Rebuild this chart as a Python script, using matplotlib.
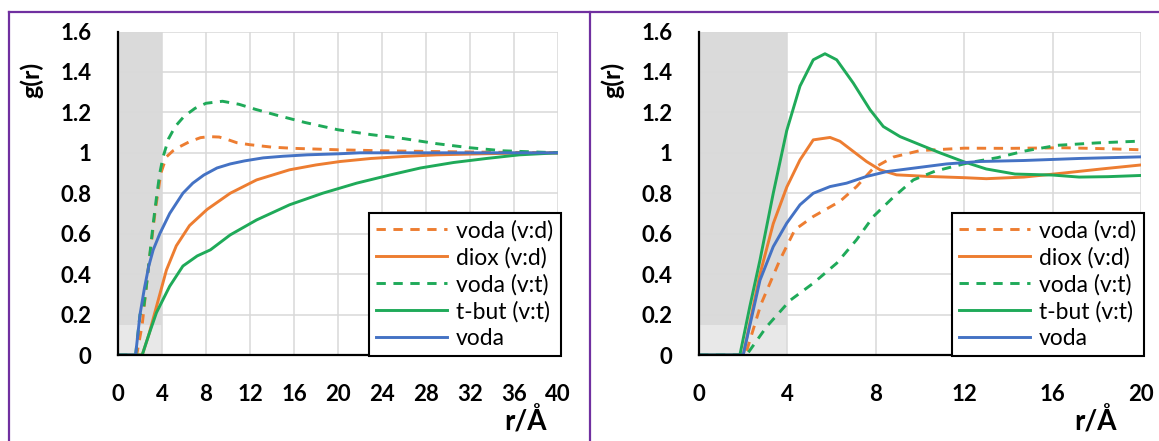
"""Radial distribution functions g(r) for the two mixtures, side by side."""
import matplotlib

matplotlib.use("Agg")
import matplotlib.pyplot as plt
from matplotlib.lines import Line2D

plt.rcParams["font.family"] = ["Lato", "DejaVu Sans"]

ORANGE = "#ED7D31"
GREEN = "#1FAA59"
BLUE = "#4472C4"
PURPLE = "#7030A0"
GRID = "#D9D9D9"
BAND = "#DADADA"

LABELS = ["voda (v:d)", "diox (v:d)", "voda (v:t)", "t-but (v:t)", "voda"]

# --- left panel, r up to 40 A ---
r_l_voda_vd = [0, 1.7, 2.2, 2.8, 3.4, 3.9, 4.4, 5.0, 5.6, 6.5, 7.5, 8.3, 9.2, 10.0, 10.8,
               12.0, 14.0, 16.0, 20.0, 24.0, 28.0, 32.0, 36.0, 40.0]
g_l_voda_vd = [0, 0, 0.15, 0.45, 0.72, 0.90, 0.98, 1.01, 1.03, 1.055, 1.075, 1.08, 1.078, 1.065, 1.05,
               1.04, 1.028, 1.022, 1.015, 1.01, 1.007, 1.004, 1.002, 1.0]

r_l_diox = [0, 2.2, 2.8, 3.5, 4.4, 5.3, 6.5, 8.1, 10.2, 12.6, 15.6, 18.0, 20.2, 23.0, 26.0,
            29.0, 33.0, 36.0, 40.0]
g_l_diox = [0, 0, 0.10, 0.24, 0.42, 0.54, 0.64, 0.72, 0.80, 0.866, 0.916, 0.94, 0.957, 0.972, 0.982,
            0.99, 0.995, 0.998, 1.0]

r_l_voda_vt = [0, 1.6, 2.0, 2.3, 2.6, 2.9, 3.2, 3.5, 3.8, 4.1, 4.6, 5.2, 6.0, 7.0, 8.0, 9.5, 11.0,
               12.5, 14.5, 17.0, 20.0, 23.0, 26.0, 29.0, 32.0, 35.0, 38.0, 40.0]
g_l_voda_vt = [0, 0, 0.20, 0.22, 0.35, 0.50, 0.65, 0.78, 0.90, 0.98, 1.07, 1.13, 1.18, 1.22, 1.245,
               1.255, 1.24, 1.215, 1.185, 1.15, 1.114, 1.09, 1.07, 1.045, 1.025, 1.01, 1.004, 1.0]

r_l_tbut = [0, 2.2, 2.8, 3.5, 4.7, 5.9, 7.2, 8.4, 10.2, 12.6, 15.6, 18.6, 21.7, 24.7, 27.5,
            30.5, 33.5, 36.5, 40.0]
g_l_tbut = [0, 0, 0.10, 0.21, 0.34, 0.44, 0.49, 0.52, 0.594, 0.668, 0.743, 0.80, 0.85, 0.89, 0.925,
            0.952, 0.972, 0.99, 1.0]

r_l_voda = [0, 1.6, 2.0, 2.4, 2.8, 3.2, 3.8, 4.7, 5.9, 6.8, 7.8, 9.0, 10.2, 11.5, 13.2, 15.0,
            17.2, 20.0, 22.0, 25.0, 30.0, 35.0, 40.0]
g_l_voda = [0, 0, 0.20, 0.33, 0.44, 0.52, 0.60, 0.70, 0.80, 0.85, 0.89, 0.925, 0.945, 0.96, 0.975,
            0.983, 0.99, 0.995, 1.0, 1.0, 1.0, 1.0, 1.0]

# --- right panel, r up to 20 A ---
r_r_voda_vd = [0, 2.1, 2.8, 3.66, 4.34, 5.17, 6.38, 7.13, 7.89, 8.79, 10.0, 12.0, 14.0, 16.5,
               18.5, 20.0]
g_r_voda_vd = [0, 0, 0.25, 0.47, 0.62, 0.685, 0.76, 0.833, 0.924, 0.979, 1.011, 1.023, 1.022, 1.025,
               1.02, 1.015]

r_r_diox = [0, 2.0, 2.76, 3.36, 3.97, 4.57, 5.17, 5.93, 6.38, 6.98, 7.58, 8.19, 8.94, 10.4, 12.0,
            13.0, 14.7, 16.5, 18.2, 20.0]
g_r_diox = [0, 0, 0.40, 0.65, 0.83, 0.965, 1.064, 1.076, 1.057, 1.007, 0.957, 0.916, 0.891, 0.883,
            0.877, 0.872, 0.88, 0.90, 0.92, 0.94]

r_r_voda_vt = [0, 2.15, 3.06, 4.12, 5.17, 6.23, 7.13, 7.89, 8.79, 9.7, 10.7, 12.2, 13.5, 14.7,
               16.2, 18.0, 20.0]
g_r_voda_vt = [0, 0, 0.14, 0.27, 0.355, 0.454, 0.57, 0.685, 0.78, 0.866, 0.91, 0.951, 0.976, 1.008,
               1.037, 1.049, 1.058]

r_r_tbut = [0, 1.85, 2.3, 2.76, 3.36, 3.97, 4.57, 5.17, 5.7, 6.23, 6.98, 7.74, 8.34, 9.1, 10.0,
            10.9, 12.0, 13.0, 14.3, 16.0, 17.2, 18.5, 20.0]
g_r_tbut = [0, 0, 0.24, 0.47, 0.80, 1.11, 1.33, 1.46, 1.49, 1.46, 1.345, 1.213, 1.13, 1.08, 1.04,
            1.0, 0.955, 0.92, 0.895, 0.89, 0.88, 0.882, 0.888]

r_r_voda = [0, 2.0, 2.76, 3.36, 3.97, 4.57, 5.17, 5.93, 6.68, 7.58, 8.49, 9.7, 11.2, 12.7, 14.7,
            17.2, 20.0]
g_r_voda = [0, 0, 0.37, 0.536, 0.652, 0.743, 0.80, 0.833, 0.85, 0.883, 0.907, 0.924, 0.945, 0.957,
            0.962, 0.972, 0.98]

x_ticks_left = [0, 4, 8, 12, 16, 20, 24, 28, 32, 36, 40]
x_ticks_right = [0, 4, 8, 12, 16, 20]
y_ticks = [0, 0.2, 0.4, 0.6, 0.8, 1.0, 1.2, 1.4, 1.6]
y_tick_labels = ["0", "0.2", "0.4", "0.6", "0.8", "1", "1.2", "1.4", "1.6"]
core_r = 4.0  # excluded core region, shaded grey

W, H = 1159, 441


def _panel(ax, series, xmax, xticks):
    ax.axvspan(0, core_r, color=BAND, zorder=0, lw=0)
    ax.axvspan(0, core_r, ymin=0, ymax=0.15 / 1.6, color="#E8E8E8", zorder=0, lw=0)
    styles = [
        dict(color=ORANGE, ls=(0, (3.2, 2.6))),
        dict(color=ORANGE, ls="-"),
        dict(color=GREEN, ls=(0, (3.2, 2.6))),
        dict(color=GREEN, ls="-"),
        dict(color=BLUE, ls="-"),
    ]
    for (r, g), st, lab in zip(series, styles, LABELS):
        ax.plot(r, g, lw=2.1, label=lab, zorder=3, **st)

    ax.set_xlim(0, xmax)
    ax.set_ylim(0, 1.6)
    ax.set_xticks(xticks)
    ax.set_yticks(y_ticks)
    ax.set_yticklabels(y_tick_labels)
    ax.grid(True, color=GRID, lw=1.1)
    ax.set_axisbelow(True)
    for s in ("top", "right"):
        ax.spines[s].set_visible(False)
    for s in ("left", "bottom"):
        ax.spines[s].set_linewidth(1.6)
        ax.spines[s].set_color("black")
        ax.spines[s].set_zorder(4)
    ax.tick_params(length=0, labelsize=16)
    ax.tick_params(axis="x", pad=21)
    ax.tick_params(axis="y", pad=19)
    for t in ax.get_xticklabels() + ax.get_yticklabels():
        t.set_fontweight("bold")

    leg = ax.legend(loc="lower right", bbox_to_anchor=(1.006, -0.004), fontsize=16.5,
                    handlelength=3.1, handletextpad=0.38, labelspacing=0.24,
                    borderpad=0.32, borderaxespad=0, fancybox=False, framealpha=1)
    leg.get_frame().set_edgecolor("black")
    leg.get_frame().set_linewidth(1.5)
    leg.set_zorder(5)


fig = plt.figure(figsize=(W / 100, H / 100), dpi=100)
ax_l = fig.add_axes([118 / W, 86 / H, 440 / W, 323.5 / H])
ax_r = fig.add_axes([699 / W, 86 / H, 442 / W, 323.5 / H])

_panel(ax_l, [(r_l_voda_vd, g_l_voda_vd), (r_l_diox, g_l_diox), (r_l_voda_vt, g_l_voda_vt),
              (r_l_tbut, g_l_tbut), (r_l_voda, g_l_voda)], 40, x_ticks_left)
_panel(ax_r, [(r_r_voda_vd, g_r_voda_vd), (r_r_diox, g_r_diox), (r_r_voda_vt, g_r_voda_vt),
              (r_r_tbut, g_r_tbut), (r_r_voda, g_r_voda)], 20, x_ticks_right)

# axis titles
for x in (32, 613):
    fig.text(x / W, 1 - 80 / H, "g(r)", rotation=90, ha="center", va="center",
             fontsize=18, fontweight="bold")
for x in (525, 1095):
    fig.text(x / W, 1 - 421 / H, "r/Å", ha="center", va="center", fontsize=20, fontweight="bold")

# purple panel frames
top = 1 - 12 / H
for xs, ys in [([9 / W, 9 / W], [0, top]), ([9 / W, 1], [top, top]),
               ([590 / W, 590 / W], [0, top])]:
    fig.add_artist(Line2D(xs, ys, color=PURPLE, lw=1.6))

fig.savefig("out.png", dpi=100)
